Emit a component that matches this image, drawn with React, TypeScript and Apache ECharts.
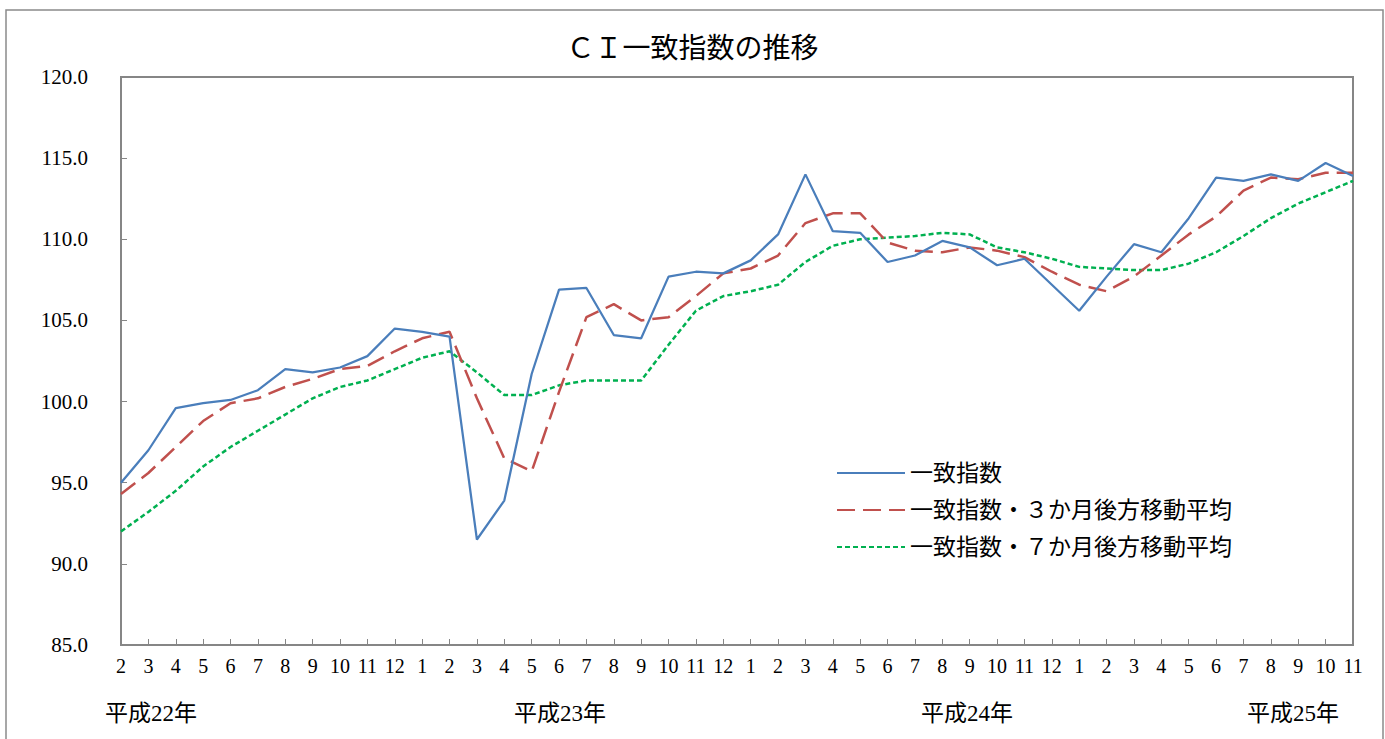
import React, { useEffect, useRef } from "react";
import * as echarts from "echarts";

const months = [
  "2","3","4","5","6","7","8","9","10","11","12",
  "1","2","3","4","5","6","7","8","9","10","11","12",
  "1","2","3","4","5","6","7","8","9","10","11","12",
  "1","2","3","4","5","6","7","8","9","10","11",
];

const ciIndex = [
  95.0, 97.0, 99.6, 99.9, 100.1, 100.7, 102.0, 101.8, 102.1, 102.8, 104.5,
  104.3, 104.0, 91.5, 93.9, 101.7, 106.9, 107.0, 104.1, 103.9, 107.7, 108.0, 107.9,
  108.7, 110.3, 114.0, 110.5, 110.4, 108.6, 109.0, 109.9, 109.5, 108.4, 108.8, 107.2,
  105.6, 107.7, 109.7, 109.2, 111.3, 113.8, 113.6, 114.0, 113.6, 114.7, 113.9,
];

const ma3 = [
  94.3, 95.6, 97.2, 98.8, 99.9, 100.2, 100.9, 101.4, 102.0, 102.2, 103.1,
  103.9, 104.3, 100.2, 96.5, 95.7, 100.6, 105.2, 106.0, 105.0, 105.2, 106.5, 107.9,
  108.2, 109.0, 111.0, 111.6, 111.6, 109.8, 109.3, 109.2, 109.5, 109.3, 108.9, 108.0,
  107.2, 106.8, 107.7, 109.0, 110.3, 111.4, 113.0, 113.8, 113.7, 114.1, 114.1,
];

const ma7 = [
  92.0, 93.2, 94.5, 96.0, 97.2, 98.2, 99.2, 100.2, 100.9, 101.3, 102.0,
  102.7, 103.1, 101.8, 100.4, 100.4, 101.0, 101.3, 101.3, 101.3, 103.5, 105.6, 106.5,
  106.8, 107.2, 108.6, 109.6, 110.0, 110.1, 110.2, 110.4, 110.3, 109.5, 109.2, 108.8,
  108.3, 108.2, 108.1, 108.1, 108.5, 109.2, 110.2, 111.3, 112.2, 112.9, 113.6,
];

const yearLabels = ["平成22年", "平成23年", "平成24年", "平成25年"];
const yearLabelX = [151, 560, 967, 1293];

const seriesNames = [
  "一致指数",
  "一致指数・３か月後方移動平均",
  "一致指数・７か月後方移動平均",
];

const SERIF = "'Liberation Serif', 'DejaVu Serif', 'Noto Sans CJK JP', serif";
const AXIS_GRAY = "#868686";

export default function App() {
  const ref = useRef<HTMLDivElement>(null);

  useEffect(() => {
    if (!ref.current) return;
    const chart = echarts.init(ref.current, null, { renderer: "svg" });
    chart.setOption({
      animation: false,
      backgroundColor: "#ffffff",
      title: {
        text: "ＣＩ一致指数の推移",
        left: "center",
        top: 29,
        textStyle: { fontFamily: SERIF, fontSize: 28, fontWeight: "normal", color: "#000" },
      },
      grid: {
        left: 121,
        top: 77,
        right: 32,
        bottom: 94,
        show: true,
        borderColor: AXIS_GRAY,
        borderWidth: 2,
        backgroundColor: "transparent",
      },
      legend: {
        orient: "vertical",
        left: 831,
        top: 455,
        itemWidth: 68,
        itemHeight: 14,
        itemGap: 11,
        data: seriesNames,
        itemStyle: { opacity: 0 },
        textStyle: {
          fontFamily: SERIF,
          fontSize: 23,
          lineHeight: 26,
          color: "#000",
          padding: [0, 0, 0, 0],
        },
      },
      xAxis: {
        type: "category",
        data: months,
        boundaryGap: false,
        axisLine: { show: true, lineStyle: { color: AXIS_GRAY, width: 2 } },
        axisTick: {
          show: true,
          inside: true,
          length: 6,
          interval: 0,
          lineStyle: { color: AXIS_GRAY, width: 1 },
        },
        axisLabel: {
          interval: 0,
          margin: 11,
          hideOverlap: false,
          fontFamily: SERIF,
          fontSize: 20,
          color: "#000",
        },
        splitLine: { show: false },
      },
      yAxis: {
        type: "value",
        min: 85,
        max: 120,
        interval: 5,
        axisLine: { show: true, lineStyle: { color: AXIS_GRAY, width: 2 } },
        axisTick: {
          show: true,
          inside: true,
          length: 6,
          lineStyle: { color: AXIS_GRAY, width: 1 },
        },
        axisLabel: {
          margin: 33,
          fontFamily: SERIF,
          fontSize: 21,
          color: "#000",
          formatter: (v: number) => v.toFixed(1),
        },
        splitLine: { show: false },
      },
      series: [
        {
          name: seriesNames[0],
          type: "line",
          data: ciIndex,
          symbol: "none",
          lineStyle: { color: "#4A7EBB", width: 2.25, type: "solid" },
          itemStyle: { color: "#4A7EBB" },
          z: 3,
        },
        {
          name: seriesNames[1],
          type: "line",
          data: ma3,
          symbol: "none",
          lineStyle: { color: "#C0504D", width: 2.5, type: [18, 8] },
          itemStyle: { color: "#C0504D" },
          z: 2,
        },
        {
          name: seriesNames[2],
          type: "line",
          data: ma7,
          symbol: "none",
          lineStyle: { color: "#00B050", width: 2.5, type: [5, 3] },
          itemStyle: { color: "#00B050" },
          z: 1,
        },
      ],
      graphic: [
        {
          type: "rect",
          shape: { x: 6, y: 10, width: 1377, height: 740 },
          style: { fill: "none", stroke: "#8a8a8a", lineWidth: 1.5 },
          silent: true,
        },
        ...yearLabels.map((t, i) => ({
          type: "text",
          x: yearLabelX[i],
          y: 713,
          style: {
            text: t,
            fontFamily: SERIF,
            fontSize: 23,
            fill: "#000",
            textAlign: "center",
            textVerticalAlign: "middle",
          },
        })),
      ],
    });
    return () => chart.dispose();
  }, []);

  return (
    <div
      ref={ref}
      style={{ position: "fixed", left: 0, top: 0, width: 1385, height: 739, background: "#fff" }}
    />
  );
}
